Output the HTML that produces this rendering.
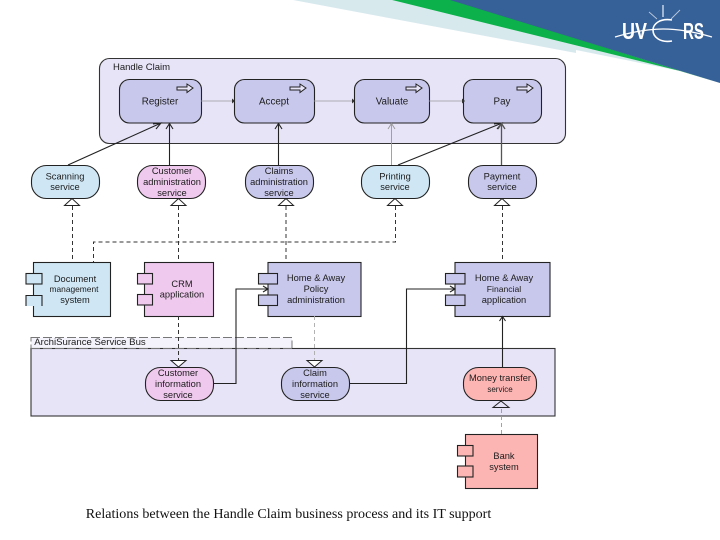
<!DOCTYPE html>
<html><head><meta charset="utf-8"><style>
html,body{margin:0;padding:0;background:#fff;width:720px;height:540px;overflow:hidden}
svg{display:block;filter:blur(.35px)}
text{font-family:"Liberation Sans",sans-serif;font-size:9.3px;fill:#1c1c1c;text-anchor:middle}
.c{fill:#c8c8ec;stroke:#222;stroke-width:1.1}
.p{fill:#efc9ee;stroke:#222;stroke-width:1.1}
.b{fill:#cfe7f5;stroke:#222;stroke-width:1.1}
.r{fill:#fdb5b3;stroke:#222;stroke-width:1.1}
.l{fill:none;stroke:#222;stroke-width:1.1}
.d{fill:none;stroke:#333;stroke-width:1;stroke-dasharray:4 3}
.t{fill:#fff;stroke:#222;stroke-width:1}
</style></head><body>
<svg width="720" height="540" viewBox="0 0 720 540" xmlns="http://www.w3.org/2000/svg">
<polygon points="293,0 392,0 680,71 576,50 576,53" fill="#d8e9ee"/>
<polygon points="392,0 452,0 720,83 680,71" fill="#0db14b"/>
<polygon points="450,0 720,0 720,83" fill="#366098"/>
<g fill="none" stroke="#fff">
<path d="M663,5 V17" stroke="#c5d2e2" stroke-width="1.5"/>
<path d="M649,12 L657,19 M680,10 L671,19" stroke="#b9c8da" stroke-width=".9"/>
<path d="M615,37 C635,31 650,29 663,29 C680,29 695,32 712,37" stroke-width="1.2"/>
<path d="M672,20 C660,18 653,24 653,30 C653,37 660,43 672,41" stroke-width="1.6"/>
</g>
<text x="622" y="39" textLength="25" lengthAdjust="spacingAndGlyphs" style="font-size:23px;font-weight:bold;fill:#fff;text-anchor:start">UV</text>
<text x="683" y="39" textLength="21" lengthAdjust="spacingAndGlyphs" style="font-size:23px;font-weight:bold;fill:#fff;text-anchor:start">RS</text>

<rect x="99.5" y="58.5" width="466" height="85" rx="10" fill="#e7e4f8" stroke="#333" stroke-width="1.1"/>
<text x="141.500" y="70" style="font-size:9.500px">Handle Claim</text>

<rect x="119.5" y="79.5" width="82" height="43.5" rx="10" class="c"/>
<rect x="234.5" y="79.5" width="80" height="43.5" rx="10" class="c"/>
<rect x="354.5" y="79.5" width="75" height="43.5" rx="10" class="c"/>
<rect x="463.5" y="79.5" width="78" height="43.5" rx="10" class="c"/>
<g fill="#e7e4f8" stroke="#222" stroke-width="1">
<polygon points="177,87 187,87 187,84 193,88 187,92.500 187,90 177,90"/>
<polygon points="290,87 300,87 300,84 306,88 300,92.500 300,90 290,90"/>
<polygon points="406,87 416,87 416,84 422,88 416,92.500 416,90 406,90"/>
<polygon points="517,87 527,87 527,84 533,88 527,92.500 527,90 517,90"/>
</g>
<text x="160" y="104.500" style="font-size:9.800px">Register</text>
<text x="274" y="104.500" style="font-size:9.800px">Accept</text>
<text x="392" y="104.500" style="font-size:9.800px">Valuate</text>
<text x="502" y="104.500" style="font-size:9.800px">Pay</text>

<path d="M201,101 H234 M314,101 H354 M429,101 H464" stroke="#999" stroke-width=".8" fill="none"/>
<g fill="#333">
<polygon points="235,101 232,98.500 232,103.500"/>
<polygon points="355,101 352,98.500 352,103.500"/>
<polygon points="465,101 462,98.500 462,103.500"/>
</g>

<path class="l" d="M68,165 L160,123.500 M153,124 L161,123 L156,129"/>
<path class="l" d="M169.500,165 V123.500 M166,129 L169.500,123.500 L173,129"/>
<path class="l" d="M278.500,165 V123.500 M275,129 L278.500,123.500 L282,129"/>
<path d="M391.500,165 V123.500 M388,129 L391.500,123.500 L395,129" fill="none" stroke="#999" stroke-width=".9"/>
<path class="l" d="M398,165 L501,123.500 M494,124 L502,123 L497,129"/>
<path d="M501.500,165 V123.500 M498,129 L501.500,123.500 L505,129" fill="none" stroke="#555" stroke-width="1.3"/>

<rect x="31.500" y="165.500" width="68" height="33" rx="15" class="b"/>
<rect x="137.500" y="165.500" width="68" height="33" rx="15" class="p"/>
<rect x="245.500" y="165.500" width="68" height="33" rx="15" class="c"/>
<rect x="361.500" y="165.500" width="68" height="33" rx="15" class="b"/>
<rect x="468.500" y="165.500" width="68" height="33" rx="15" class="c"/>
<text x="65" y="179.500">Scanning</text><text x="65" y="190">service</text>
<text x="172" y="174">Customer</text><text x="172" y="185">administration</text><text x="172" y="196">service</text>
<text x="279" y="174">Claims</text><text x="279" y="185">administration</text><text x="279" y="196">service</text>
<text x="395" y="179.500">Printing</text><text x="395" y="190">service</text>
<text x="502" y="179.500">Payment</text><text x="502" y="190">service</text>

<polygon class="t" points="72,198.500 64.500,205.500 79.500,205.500"/>
<polygon class="t" points="178.500,198.500 171,205.500 186,205.500"/>
<polygon class="t" points="286,198.500 278.500,205.500 293.500,205.500"/>
<polygon class="t" points="395,198.500 387.500,205.500 402.500,205.500"/>
<polygon class="t" points="502,198.500 494.500,205.500 509.500,205.500"/>

<path class="d" d="M72.500,206 V262 M178.500,206 V262 M286,206 V262 M395.500,206 V242 H93.500 V262 M502.500,206 V262"/>

<rect x="33.500" y="262.500" width="77" height="54" class="b"/>
<rect x="144.500" y="262.500" width="69" height="54" class="p"/>
<rect x="268" y="262.500" width="93" height="54" class="c"/>
<rect x="455" y="262.500" width="95" height="54" class="c"/>
<rect x="465.500" y="434.500" width="72" height="54" class="r"/>
<rect x="26" y="273.500" width="16" height="10.500" class="b"/>
<path class="b" d="M26,306 V295.500 H42 V306"/>
<rect x="137.500" y="273.500" width="15" height="10.500" class="p"/>
<rect x="137.500" y="294.500" width="15" height="10.500" class="p"/>
<rect x="258.500" y="273.500" width="19" height="10.500" class="c"/>
<rect x="258.500" y="295" width="19" height="10.500" class="c"/>
<rect x="445.500" y="273.500" width="19.500" height="10.500" class="c"/>
<rect x="445.500" y="295" width="19.500" height="10.500" class="c"/>
<rect x="457.500" y="445.500" width="15.500" height="10.500" class="r"/>
<rect x="457.500" y="466" width="15.500" height="11" class="r"/>
<text x="75" y="282">Document</text><text x="74" y="292" style="font-size:8.400px">management</text><text x="75" y="303">system</text>
<text x="182" y="287">CRM</text><text x="182" y="297.500">application</text>
<text x="316" y="281">Home &amp; Away</text><text x="316" y="292">Policy</text><text x="316" y="303">administration</text>
<text x="504" y="281">Home &amp; Away</text><text x="504" y="292" style="font-size:8.600px">Financial</text><text x="504" y="303">application</text>
<text x="504" y="459">Bank</text><text x="504" y="470">system</text>

<rect x="31" y="337.500" width="261" height="11" fill="#f4f3fb" stroke="#777" stroke-width="1" stroke-dasharray="9 3"/>
<rect x="31" y="348.500" width="524" height="67.500" fill="#e7e4f8" stroke="#333" stroke-width="1.1"/>
<path d="M31,348.500 H292" stroke="#777" stroke-width="1" stroke-dasharray="9 3" fill="none"/>
<text x="90" y="345" style="font-size:9.600px">ArchiSurance Service Bus</text>

<path class="d" d="M178.500,316 V360"/>
<path d="M314.500,316 V360" fill="none" stroke="#aaa" stroke-width=".9" stroke-dasharray="4 3"/>
<path d="M501.500,434 V408" fill="none" stroke="#999" stroke-width=".9" stroke-dasharray="4 3"/>
<polygon class="t" points="171,360.500 186,360.500 178.500,367"/>
<polygon class="t" points="307,360.500 322,360.500 314.500,367"/>

<rect x="145.500" y="367.500" width="68" height="33" rx="15" class="p"/>
<rect x="281.500" y="367.500" width="68" height="33" rx="15" class="c"/>
<rect x="463.500" y="367.500" width="73" height="33" rx="15" class="r"/>
<text x="178" y="376">Customer</text><text x="178" y="387">information</text><text x="178" y="398">service</text>
<text x="315" y="376">Claim</text><text x="315" y="387">information</text><text x="315" y="398">service</text>
<text x="500" y="381">Money transfer</text><text x="500" y="392" style="font-size:8px">service</text>
<polygon fill="#e7e4f8" stroke="#222" stroke-width="1" points="501,401 493,407.500 509,407.500"/>

<path class="l" d="M213.500,383.500 H236 V289 H268 M263,286 L268,289 L263,292"/>
<path class="l" d="M350,383.500 H406.500 V289 H455 M450,286 L455,289 L450,292"/>
<path class="l" d="M502.500,367 V316.500 M499.500,321 L502.500,316.500 L505.500,321"/>

<text x="288.500" y="518" style="font-family:'Liberation Serif',serif;font-size:14.050px;fill:#111">Relations between the Handle Claim business process and its IT support</text>
</svg>
</body></html>
